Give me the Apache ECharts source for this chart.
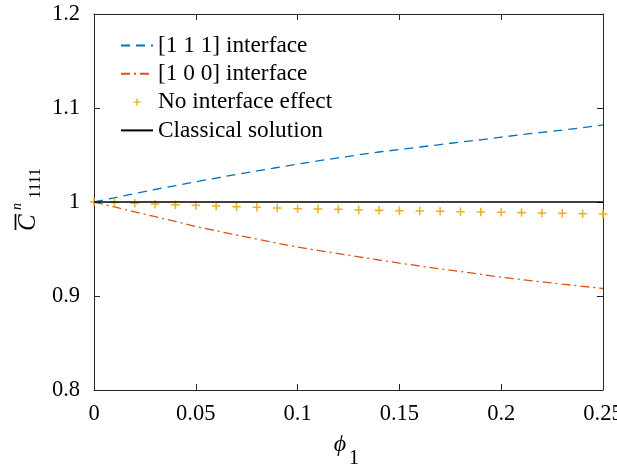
<!DOCTYPE html>
<html>
<head>
<meta charset="utf-8">
<script src="https://cdn.jsdelivr.net/npm/echarts@6/dist/echarts.min.js"></script>
<style>
  html, body { margin: 0; padding: 0; background: #ffffff; overflow: hidden; }
  #chart { width: 617px; height: 469px; }
</style>
</head>
<body>
<div id="chart"></div>
<script>
// Volume fraction of inclusions
const phi = [0, 0.01, 0.02, 0.03, 0.04, 0.05, 0.06, 0.07, 0.08, 0.09, 0.10,
             0.11, 0.12, 0.13, 0.14, 0.15, 0.16, 0.17, 0.18, 0.19, 0.20,
             0.21, 0.22, 0.23, 0.24, 0.25];

// Normalised effective modulus C1111 for each model
const c111 = [1, 1.0045, 1.0090, 1.0133, 1.0175, 1.0215, 1.0255, 1.0293, 1.0330, 1.0367, 1.0403,
              1.0437, 1.0470, 1.0502, 1.0532, 1.0558, 1.0585, 1.0611, 1.0637, 1.0662, 1.0690,
              1.0716, 1.0741, 1.0765, 1.0790, 1.0820];
const c100 = [1, 0.9947, 0.9895, 0.9844, 0.9793, 0.9740, 0.9694, 0.9649, 0.9605, 0.9562, 0.9520,
              0.9485, 0.9451, 0.9417, 0.9383, 0.9350, 0.9319, 0.9289, 0.9260, 0.9231, 0.9200,
              0.9175, 0.9150, 0.9126, 0.9103, 0.9080];
const cNoInterface = [1, 0.9994, 0.9986, 0.9979, 0.9971, 0.9965, 0.9957, 0.9950, 0.9943, 0.9936, 0.9929,
                      0.9926, 0.9922, 0.9915, 0.9911, 0.9908, 0.9904, 0.9901, 0.9897, 0.9894, 0.9890,
                      0.9887, 0.9883, 0.9880, 0.9876, 0.9872];
const classicalPhi = [0, 0.25];
const cClassical = [1, 1];

const seriesNames = ['[1 1 1] interface', '[1 0 0] interface', 'No interface effect', 'Classical solution'];

const xTickValues = [0, 0.05, 0.1, 0.15, 0.2, 0.25];
const xTickLabels = ['0', '0.05', '0.1', '0.15', '0.2', '0.25'];
const yTickValues = [0.8, 0.9, 1, 1.1, 1.2];
const yTickLabels = ['0.8', '0.9', '1', '1.1', '1.2'];

const pairs = (xs, ys) => xs.map((x, i) => [x, ys[i]]);
const lookup = (values, labels) => v => {
  const i = values.findIndex(t => Math.abs(t - v) < 1e-9);
  return i < 0 ? '' : labels[i];
};

const serif = "'Liberation Serif', 'Times New Roman', serif";
const ink = '#262626';
// '+' marker, and a smaller '+' centred in a 32x14 legend box
const plusPath = 'path://M4.1,0H5.9V4.1H10V5.9H5.9V10H4.1V5.9H0V4.1H4.1Z';
const plusLegendPath = 'path://M0,0M32,14M15.3,3.5H16.7V6.3H19.5V7.7H16.7V10.5H15.3V7.7H12.5V6.3H15.3Z';

const axisCommon = {
  axisLine: { show: true, onZero: false, lineStyle: { color: ink, width: 1 } },
  axisTick: { show: true, inside: true, length: 6, lineStyle: { color: ink, width: 1 } },
  splitLine: { show: false }
};
const hideLegendSymbol = { itemStyle: { opacity: 0 } };

const chart = echarts.init(document.getElementById('chart'), null, { renderer: 'canvas' });
chart.setOption({
  animation: false,
  backgroundColor: '#ffffff',
  grid: { left: 94, right: 14, top: 14, bottom: 79, containLabel: false, outerBoundsMode: 'none' },
  xAxis: [
    Object.assign({
      type: 'value', position: 'bottom', min: 0, max: 0.25, interval: 0.05,
      axisLabel: { color: '#000', fontFamily: serif, fontSize: 22.5, margin: 13,
                   formatter: lookup(xTickValues, xTickLabels) }
    }, axisCommon),
    Object.assign({
      type: 'value', position: 'top', min: 0, max: 0.25, interval: 0.05,
      axisLabel: { show: false }
    }, axisCommon)
  ],
  yAxis: [
    Object.assign({
      type: 'value', position: 'left', min: 0.8, max: 1.2, interval: 0.1,
      axisLabel: { color: '#000', fontFamily: serif, fontSize: 22.5, margin: 14,
                   formatter: lookup(yTickValues, yTickLabels) }
    }, axisCommon),
    Object.assign({
      type: 'value', position: 'right', min: 0.8, max: 1.2, interval: 0.1,
      axisLabel: { show: false }
    }, axisCommon)
  ],
  legend: {
    orient: 'vertical', left: 115, top: 29,
    itemWidth: 32, itemHeight: 14, itemGap: 5.3,
    textStyle: { fontFamily: serif, fontSize: 23.3, lineHeight: 23, color: '#000' },
    data: [
      Object.assign({ name: seriesNames[0] }, hideLegendSymbol),
      Object.assign({ name: seriesNames[1] }, hideLegendSymbol),
      { name: seriesNames[2], icon: plusLegendPath },
      Object.assign({ name: seriesNames[3] }, hideLegendSymbol)
    ]
  },
  graphic: [
    // y-axis title: C with overline, superscript n, subscript 1111 (rotated)
    {
      type: 'group', x: 28.1, y: 231, rotation: Math.PI / 2, silent: true,
      children: [
        { type: 'text', x: 0, y: 0, style: { text: 'C', fontFamily: serif, fontStyle: 'italic', fontSize: 25,
            fill: '#000', align: 'left', verticalAlign: 'middle' } },
        { type: 'line', shape: { x1: 1, y1: -12.6, x2: 17, y2: -12.6 }, style: { stroke: '#000', lineWidth: 1.7 } },
        { type: 'text', x: 21, y: -11, style: { text: 'n', fontFamily: serif, fontStyle: 'italic', fontSize: 14,
            fill: '#000', align: 'left', verticalAlign: 'middle' } },
        { type: 'text', x: 32.5, y: 7.8, style: { text: '1111', fontFamily: serif, fontSize: 16,
            fill: '#000', align: 'left', verticalAlign: 'middle' } }
      ]
    },
    // x-axis title: phi with subscript 1
    { type: 'text', x: 340, y: 445, silent: true,
      style: { text: 'ϕ', fontFamily: serif, fontStyle: 'italic', fontSize: 24, fill: '#000',
               align: 'center', verticalAlign: 'middle' } },
    { type: 'text', x: 354, y: 458, silent: true,
      style: { text: '1', fontFamily: serif, fontSize: 21, fill: '#000',
               align: 'center', verticalAlign: 'middle' } }
  ],
  series: [
    {
      name: seriesNames[0], type: 'line', data: pairs(phi, c111),
      symbol: 'none', showSymbol: false,
      lineStyle: { color: '#0072BD', width: 1.3, type: [9, 6] },
      itemStyle: { color: '#0072BD' }, z: 2
    },
    {
      name: seriesNames[1], type: 'line', data: pairs(phi, c100),
      symbol: 'none', showSymbol: false,
      lineStyle: { color: '#D95319', width: 1.3, type: [9, 4, 2, 4] },
      itemStyle: { color: '#D95319' }, z: 2
    },
    {
      name: seriesNames[2], type: 'scatter', data: pairs(phi, cNoInterface),
      symbol: plusPath, symbolSize: 8.5,
      itemStyle: { color: '#EDB120', opacity: 1 }, z: 3
    },
    {
      name: seriesNames[3], type: 'line', data: pairs(classicalPhi, cClassical),
      symbol: 'none', showSymbol: false,
      lineStyle: { color: '#000000', width: 1.5, type: 'solid' },
      itemStyle: { color: '#000000' }, z: 4
    }
  ]
});
</script>
</body>
</html>
